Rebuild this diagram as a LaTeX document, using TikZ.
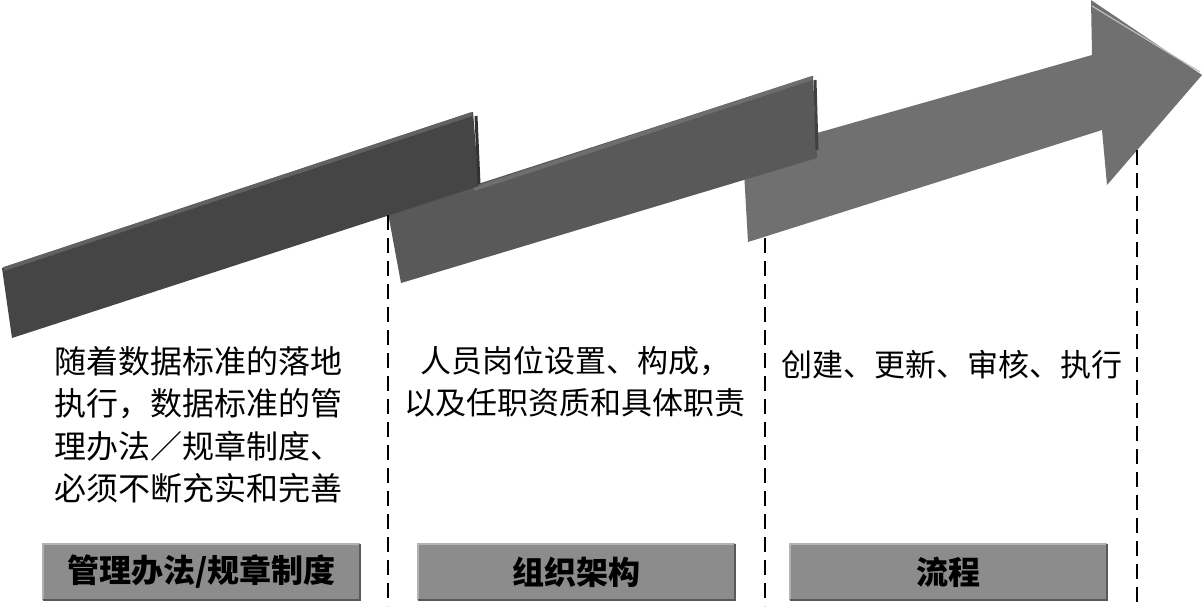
\documentclass[tikz,border=0pt]{standalone}
\usepackage{fontspec}
\setmainfont{Liberation Serif}
\newfontfamily\cjk{Noto Sans CJK SC}
\begin{document}
\begin{tikzpicture}[x=1pt,y=-1pt,
  segA/.style={fill=black!73},
  segB/.style={fill=black!65},
  segC/.style={fill=black!56},
  bevel/.style={line width=4pt},
  labelbox/.style={draw=none,fill=black!45,minimum width=317pt,minimum height=56pt,inner sep=0pt,
     font=\cjk\bfseries\fontsize{32}{36}\selectfont,text=black},
  desc/.style={font=\cjk\fontsize{31}{42.5}\selectfont,inner sep=0pt},
  guide/.style={dash pattern=on 15pt off 8pt,line width=1.6pt,black}]
\useasboundingbox (0,0) rectangle (1202,606);
\fill[white] (0,0) rectangle (1202,606);
% arrow segment 3 with head (bottom layer)
\fill[segC] (743,154) -- (1092,55) -- (1091,0) -- (1202,75) -- (1107,185) -- (1102,130) -- (748,242) -- cycle;
\draw[line width=1.2pt,black!25] (1092,6) -- (1200,72);
% arrow segment 2
\fill[segB] (388,213) -- (813,76) -- (817,158) -- (401,283) -- cycle;
\draw[bevel,black!57] (474,189) -- (812,78);
\draw[line width=3pt,black!75] (815,80) -- (817,150);
% arrow segment 1 (top layer)
\fill[segA] (2,268) -- (473,112) -- (479,186) -- (12,338) -- cycle;
\draw[bevel,black!62] (4,269) -- (472,114);
\draw[line width=3pt,black!80] (476,116) -- (479,184);
% guides
\draw[guide] (388,215) -- (388,606);
\draw[guide] (765,238) -- (765,606);
\draw[guide] (1137,150) -- (1137,606);
% descriptions
\node[desc,anchor=north west,align=left,font=\cjk\fontsize{32}{42.5}\selectfont] (d1) at (54,346) {随着数据标准的落地\\执行，数据标准的管\\理办法／规章制度、\\必须不断充实和完善};
\node[desc,anchor=north,align=center] (d2) at (575,346) {人员岗位设置、构成，\\以及任职资质和具体职责};
\node[desc,anchor=north] (d3) at (952,350) {创建、更新、审核、执行};
% label boxes
\node[labelbox] (b1) at (201.5,572) {管理办法/规章制度};
\node[labelbox] (b2) at (576.5,572) {组织架构};
\node[labelbox] (b3) at (948.5,572) {流程};
\foreach \b in {b1,b2,b3}{
  \draw[line width=1.5pt,black!30] (\b.south west) -- (\b.north west) -- (\b.north east);
  \draw[line width=1.5pt,black!65] (\b.north east) -- (\b.south east) -- (\b.south west);
}
\end{tikzpicture}
\end{document}
